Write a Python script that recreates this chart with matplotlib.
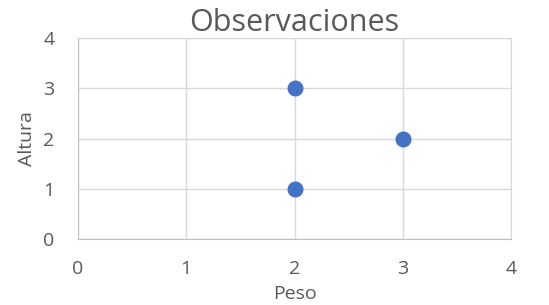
import matplotlib.pyplot as plt

peso = [2, 2, 3]
altura = [1, 3, 2]
ticks = [0, 1, 2, 3, 4]

plt.rcParams['font.family'] = ['Open Sans', 'DejaVu Sans']
txt = '#595959'
grid = '#d9d9d9'

fig = plt.figure(figsize=(5.49, 3.05), dpi=100)
ax = fig.add_axes([0.142, 0.2164, 0.789, 0.659])

ax.plot(peso, altura, 'o', color='#4472c4', markersize=10.5, zorder=3)

ax.set_xlim(0, 4)
ax.set_ylim(0, 4)
ax.set_xticks(ticks)
ax.set_yticks(ticks)
ax.grid(True, color=grid, linewidth=1)
ax.tick_params(length=0, labelsize=14, labelcolor=txt)
ax.tick_params(axis='x', pad=15)
ax.tick_params(axis='y', pad=17)
for s in ax.spines.values():
    s.set_color(grid)
ax.spines['left'].set_color('#bfbfbf')
ax.spines['bottom'].set_color('#bfbfbf')

ax.set_xlabel('Peso', fontsize=14, color=txt, labelpad=5)
ax.set_ylabel('Altura', fontsize=14, color=txt, labelpad=5)
ax.set_title('Observaciones', fontsize=22, color=txt, pad=-6)

fig.savefig('out.png', dpi=100)
